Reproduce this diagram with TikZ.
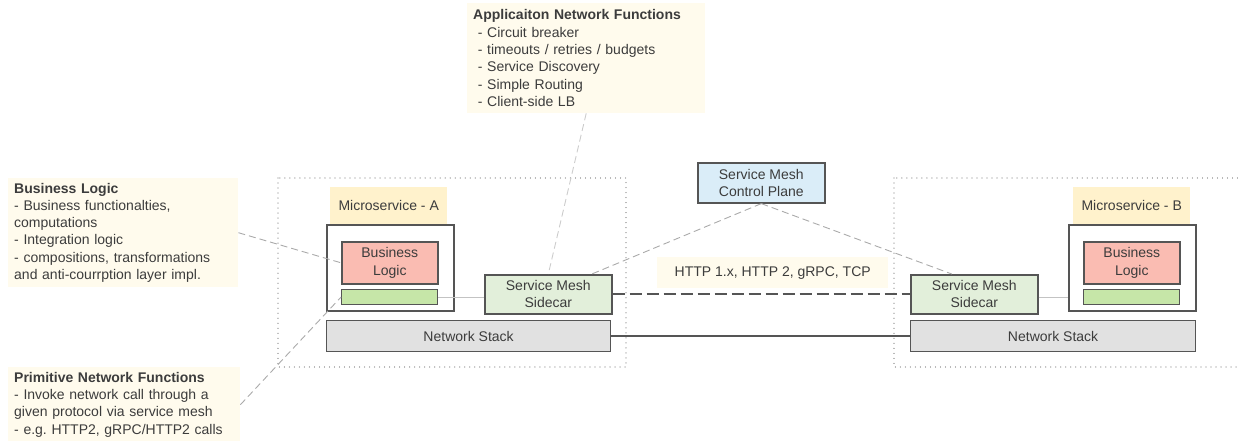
\documentclass[tikz,border=0pt]{standalone}
\usepackage{fontspec}
\setmainfont{Liberation Sans}
\frenchspacing
\definecolor{notebg}{RGB}{255,251,237}
\definecolor{labelbg}{RGB}{255,242,204}
\definecolor{logicbg}{RGB}{250,188,178}
\definecolor{barbg}{RGB}{198,230,168}
\definecolor{sidebg}{RGB}{226,239,218}
\definecolor{stackbg}{RGB}{225,225,225}
\definecolor{ctrlbg}{RGB}{218,237,248}
\definecolor{edge}{RGB}{85,85,85}
\definecolor{ink}{RGB}{60,60,60}
\definecolor{faint}{RGB}{170,170,170}

\begin{document}
\begin{tikzpicture}[x=1pt,y=-1pt,
        font=\fontsize{14}{17.3}\selectfont, text=ink,
        note/.style={fill=notebg, anchor=north west, align=left, inner xsep=6pt, inner ysep=0pt},
        tag/.style={fill=labelbg, anchor=north west, inner sep=0pt, minimum width=117pt, minimum height=37pt},
        unit/.style={draw=edge, line width=1.6pt, anchor=north west, align=center, inner sep=0pt},
        frame/.style={draw=faint, line width=1.2pt, dash pattern=on 0.01pt off 5pt, line cap=round},
        hint/.style={draw=faint, line width=0.9pt, dash pattern=on 7pt off 4pt}]
        \useasboundingbox (0,0) rectangle (1238,440);
        \draw[frame] (278,178) rectangle (626,367);
        \draw[frame] (894,178) rectangle (1250,367);
        \node[note, text width=218pt, minimum height=109pt] (bizNote) at (8,178)
            {\textbf{Business Logic}\\- Business functionalties,\\computations\\- Integration logic\\- compositions, transformations\\and anti-courrption layer impl.};
        \node[note, text width=220pt, minimum height=75pt] (primNote) at (8,367)
            {\textbf{Primitive Network Functions}\\- Invoke network call through a\\given protocol via service mesh\\- e.g. HTTP2, gRPC/HTTP2 calls};
        \node[note, text width=226pt, minimum height=110pt] (appNote) at (467,3)
            {\textbf{Applicaiton Network Functions}\\\ - Circuit breaker\\\ - timeouts / retries / budgets\\\ - Service Discovery\\\ - Simple Routing\\\ - Client-side LB};
        \node[tag] (tagA) at (330,187) {Microservice - A};
        \node[tag] (tagB) at (1073,187) {Microservice - B};
        \node[unit, line width=2.4pt, minimum width=127pt, minimum height=86pt] (outerA) at (326,224) {};
        \node[unit, line width=2.4pt, minimum width=127pt, minimum height=86pt] (outerB) at (1068,224) {};
        \foreach \n/\x in {A/341,B/1083}
            {\node[unit, fill=logicbg, minimum width=96pt, minimum height=42pt] (logic\n) at (\x,241) {Business\\Logic};
             \node[unit, line width=1.2pt, fill=barbg, minimum width=96pt, minimum height=15pt] (bar\n) at (\x,289) {};
            }
        \node[unit, fill=sidebg, minimum width=127pt, minimum height=39pt] (sideA) at (484,274) {Service Mesh\\Sidecar};
        \node[unit, fill=sidebg, minimum width=127pt, minimum height=39pt] (sideB) at (910,274) {Service Mesh\\Sidecar};
        \node[unit, line width=1.2pt, fill=stackbg, minimum width=284pt, minimum height=31pt] (stackA) at (326,320) {Network Stack};
        \node[unit, line width=1.2pt, fill=stackbg, minimum width=285pt, minimum height=31pt] (stackB) at (910,320) {Network Stack};
        \node[unit, fill=ctrlbg, minimum width=127pt, minimum height=40pt] (ctrl) at (697,162) {Service Mesh\\Control Plane};
        \node[fill=notebg, anchor=north west, inner sep=0pt, minimum width=231pt, minimum height=31pt] (proto) at (657,257) {HTTP 1.x, HTTP 2, gRPC, TCP};
        \draw[draw=edge, line width=2pt, dash pattern=on 12pt off 5pt] (sideA.east) -- (sideB.west);
        \draw[draw=edge, line width=1.3pt] (stackA.east) -- (stackB.west);
        \draw[draw=faint!70, line width=1.2pt] (barA.east) -- (barA.east -| sideA.west);
        \draw[draw=faint!70, line width=1.2pt] (sideB.east |- barB.west) -- (outerB.west |- barB.west);
        \draw[hint] (bizNote.east) -- (logicA.west);
        \draw[hint] (primNote.east) -- (barA.west);
        \draw[hint, draw=faint!60] (appNote.south) -- (sideA.north);
        \draw[hint] (ctrl.south) -- (sideA.25);
        \draw[hint] (ctrl.south) -- (sideB.138);
    \end{tikzpicture}
\end{document}
